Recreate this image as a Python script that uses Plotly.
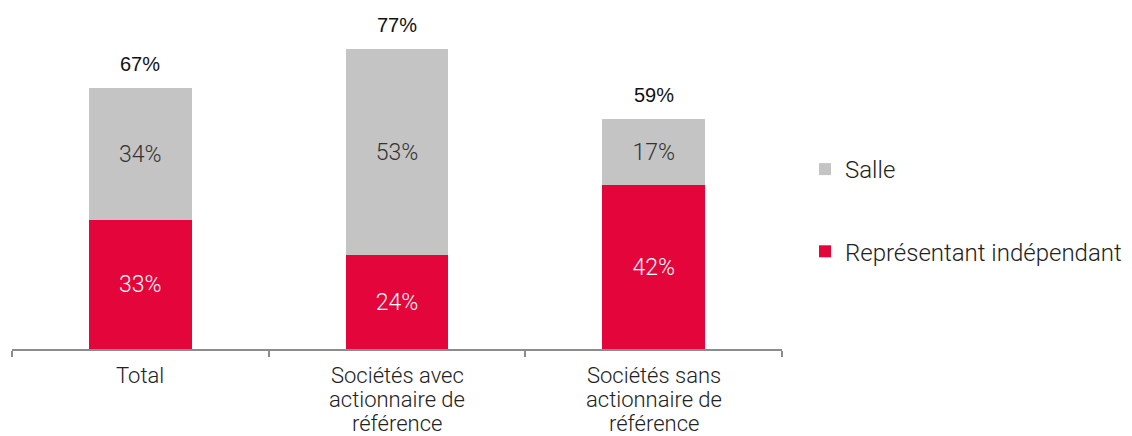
import plotly.graph_objects as go

categories = ["Total", "Sociétés avec<br>actionnaire de<br>référence", "Sociétés sans<br>actionnaire de<br>référence"]
representant = [33, 24, 42]
salle = [34, 53, 17]
totals = [67, 77, 59]

RED = "#E4053A"
GREY = "#C4C4C4"
FONT = "Roboto"
TXT = "#222222"

fig = go.Figure()
fig.add_trace(go.Bar(
    x=categories, y=representant, name="Représentant indépendant",
    marker=dict(color=RED, line=dict(width=0)), width=0.4,
    text=[f"{v}%" for v in representant], textposition="inside",
    insidetextanchor="middle", textangle=0,
    textfont=dict(color="white", size=23, family=FONT, weight=300),
    legendgroup="r", legendrank=2, hoverinfo="skip",
))
fig.add_trace(go.Bar(
    x=categories, y=salle, name="Salle",
    marker=dict(color=GREY, line=dict(width=0)), width=0.4,
    text=[f"{v}%" for v in salle], textposition="inside",
    insidetextanchor="middle", textangle=0,
    textfont=dict(color="#333333", size=23, family=FONT, weight=300),
    legendgroup="s", legendrank=1, hoverinfo="skip",
))

# totals above the stacks
for c, t in zip(categories, totals):
    fig.add_annotation(x=c, y=t, text=f"{t}%", showarrow=False, yanchor="bottom",
                       yshift=11, font=dict(family="Liberation Sans", size=20, color="#111111"))

# category labels (one annotation per line for tighter line spacing)
for c in categories:
    for i, line in enumerate(c.split("<br>")):
        fig.add_annotation(x=c, y=0, text=line, showarrow=False, yanchor="middle",
                           yshift=-(26 + 24 * i),
                           font=dict(family=FONT, size=22, color=TXT, weight=300))

fig.update_layout(
    barmode="stack",
    width=1132, height=436,
    margin=dict(l=4, r=358, t=2, b=95),
    plot_bgcolor="white", paper_bgcolor="white",
    font=dict(family=FONT, size=22, color=TXT, weight=300),
    legend=dict(
        x=797 / 1132, xref="container", xanchor="left",
        y=1 - 139 / 436, yref="container", yanchor="top",
        traceorder="grouped", tracegroupgap=48,
        font=dict(family=FONT, size=24, color=TXT, weight=300),
        bgcolor="rgba(0,0,0,0)",
    ),
    xaxis=dict(
        showline=True, linecolor="#8c8c8c", linewidth=1.5,
        ticks="outside", tickson="boundaries", ticklen=6, tickcolor="#8c8c8c", tickwidth=1.5,
        showticklabels=False, showgrid=False,
    ),
    yaxis=dict(range=[0, 87], visible=False, showgrid=False, zeroline=False),
)

fig.write_html("out.html")
